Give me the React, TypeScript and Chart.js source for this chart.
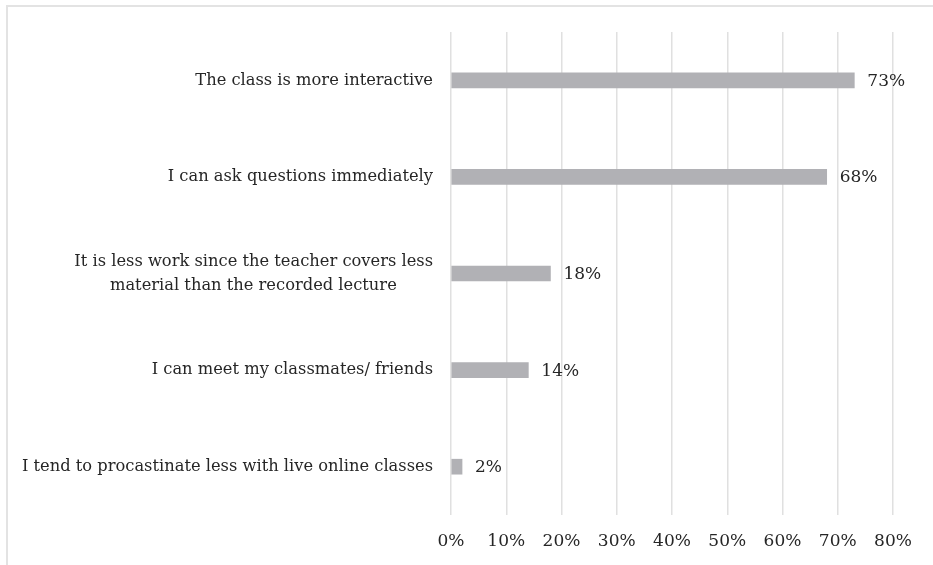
import React, { useEffect, useRef } from "react";
import { Chart, registerables } from "chart.js";

Chart.register(...registerables);

const categories: (string | string[])[] = [
  "The class is more interactive",
  "I can ask questions immediately",
  [
    "It is less work since the teacher covers less",
    "material than the recorded lecture\u00a0\u00a0\u00a0\u00a0\u00a0\u00a0\u00a0",
  ],
  "I can meet my classmates/ friends",
  "I tend to procastinate less with live online classes",
];
const values = [73, 68, 18, 14, 2];
const xTicks = [0, 10, 20, 30, 40, 50, 60, 70, 80];

const FONT = "'DejaVu Serif', 'Liberation Serif', serif";
const TEXT = "#262626";

const dataLabels = {
  id: "dataLabels",
  afterDatasetsDraw(chart: any) {
    const ctx = chart.ctx;
    const meta = chart.getDatasetMeta(0);
    ctx.save();
    ctx.font = `17px ${FONT}`;
    ctx.fillStyle = TEXT;
    ctx.textAlign = "left";
    ctx.textBaseline = "middle";
    meta.data.forEach((bar: any, i: number) => {
      ctx.fillText(`${values[i]}%`, bar.x + 13, bar.y + 1);
    });
    ctx.restore();
  },
};

export default function App() {
  const ref = useRef<HTMLCanvasElement>(null);
  useEffect(() => {
    if (!ref.current) return;
    const chart = new Chart(ref.current, {
      type: "bar",
      data: {
        labels: categories,
        datasets: [
          {
            data: values,
            backgroundColor: "#b1b1b5",
            barThickness: 15,
          },
        ],
      },
      options: {
        indexAxis: "y",
        animation: false,
        responsive: false,
        maintainAspectRatio: false,
        layout: { padding: { left: 0, right: 40, top: 32, bottom: 0 } },
        plugins: { legend: { display: false }, tooltip: { enabled: false } },
        scales: {
          x: {
            min: 0,
            max: 80,
            afterBuildTicks: (scale: any) => {
              scale.ticks = xTicks.map((v) => ({ value: v }));
            },
            afterFit: (scale: any) => {
              scale.height = 50;
            },
            grid: { color: "#e0e0e0", lineWidth: 1.5, drawTicks: false },
            border: { display: false },
            ticks: {
              padding: 16,
              color: TEXT,
              font: { family: FONT, size: 17 },
              callback: (v: any) => `${v}%`,
            },
          },
          y: {
            afterFit: (scale: any) => {
              scale.width = 451;
            },
            grid: { display: false },
            border: { display: false },
            ticks: {
              padding: 10,
              color: TEXT,
              font: { family: FONT, size: 16.3, lineHeight: 1.5 },
            },
          },
        },
      },
      plugins: [dataLabels],
    });
    return () => chart.destroy();
  }, []);

  return (
    <div style={{ position: "absolute", left: 0, top: 0, width: 933, height: 565, background: "#fff", overflow: "hidden" }}>
      <div
        style={{
          position: "absolute",
          left: 6,
          top: 5,
          width: 960,
          height: 600,
          borderTop: "2px solid #e3e3e3",
          borderLeft: "2px solid #e3e3e3",
        }}
      />
      <canvas ref={ref} width={933} height={565} style={{ position: "absolute", left: 0, top: 0 }} />
    </div>
  );
}
